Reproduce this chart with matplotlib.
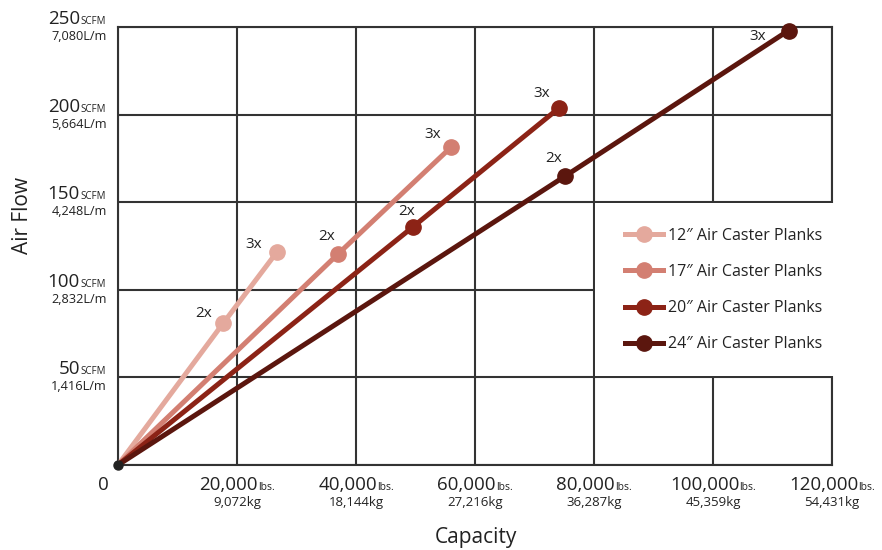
import matplotlib
matplotlib.use("Agg")
import matplotlib.pyplot as plt
import matplotlib.transforms as mtransforms
from matplotlib.patches import Rectangle

plt.rcParams['font.family'] = ['Open Sans', 'DejaVu Sans']

# ---------------- data ----------------
series_names = ['12\u2033 Air Caster Planks', '17\u2033 Air Caster Planks',
                '20\u2033 Air Caster Planks', '24\u2033 Air Caster Planks']
cap_12 = [0, 17700, 26700]
air_12 = [0, 81, 121.5]
cap_17 = [0, 37000, 56000]
air_17 = [0, 120.5, 181.5]
cap_20 = [0, 49600, 74200]
air_20 = [0, 136, 204]
cap_24 = [0, 75200, 112700]
air_24 = [0, 165, 248]
point_labels = ['', '2x', '3x']

x_ticks = [20000, 40000, 60000, 80000, 100000, 120000]
x_main = ['20,000', '40,000', '60,000', '80,000', '100,000', '120,000']
x_metric = ['9,072kg', '18,144kg', '27,216kg', '36,287kg', '45,359kg', '54,431kg']
y_ticks = [50, 100, 150, 200, 250]
y_main = ['50', '100', '150', '200', '250']
y_metric = ['1,416L/m', '2,832L/m', '4,248L/m', '5,664L/m', '7,080L/m']

# ---------------- style ----------------
colors = ['#E4A99D', '#D37F72', '#8C2316', '#5B160E']
# label offsets (pixels) for 2x / 3x per series
label_offsets = [[(-20, 10), (-23, 8)],
                 [(-12, 17), (-19, 13)],
                 [(-6, 15), (-18, 14)],
                 [(-12, 17), (-31, -6)]]
grid_color = '#333333'
text_color = '#222222'

W, H = 882, 550
fig = plt.figure(figsize=(W / 100, H / 100), dpi=100)
ax_l, ax_r, ax_t, ax_b = 118, 832, 27, 465
ax = fig.add_axes([ax_l / W, (H - ax_b) / H, (ax_r - ax_l) / W, (ax_b - ax_t) / H])
ax.set_xlim(0, 120000)
ax.set_ylim(0, 250)
ax.set_xticks([0] + x_ticks)
ax.set_yticks([0] + y_ticks)
ax.tick_params(length=0, labelbottom=False, labelleft=False)
ax.grid(True, color=grid_color, linewidth=1.5, zorder=1)
ax.set_axisbelow(True)
for s in ax.spines.values():
    s.set_color(grid_color)
    s.set_linewidth(1.5)

# white legend panel covering grid cells
ax.add_patch(Rectangle((80000 + 250, 50 + 0.6), 41000, 100 - 1.2,
                       facecolor='white', edgecolor='none', zorder=2.7,
                       clip_on=False))

caps = [cap_12, cap_17, cap_20, cap_24]
airs = [air_12, air_17, air_20, air_24]
handles = []
for i in range(4):
    line, = ax.plot(caps[i], airs[i], color=colors[i], linewidth=3.6,
                    solid_capstyle='butt', zorder=3 + i, clip_on=False)
    ax.plot(caps[i][1:], airs[i][1:], 'o', color=colors[i], markersize=11,
            zorder=3 + i, clip_on=False)
    h, = ax.plot([], [], color=colors[i], linewidth=3.6, marker='o',
                 markersize=11)
    handles.append(h)
    for j in (1, 2):
        ax.annotate(point_labels[j], (caps[i][j], airs[i][j]),
                    xytext=label_offsets[i][j - 1], textcoords='offset pixels',
                    ha='center', va='center', fontsize=11, color=text_color,
                    zorder=10)

# origin dot
ax.plot([0], [0], 'o', color='#222222', markersize=6.5, zorder=10,
        clip_on=False)

leg = ax.legend(handles, series_names, loc='center left',
                bbox_to_anchor=((625 - ax_l) / (ax_r - ax_l), (ax_b - 290) / (ax_b - ax_t)),
                frameon=False, borderpad=0, borderaxespad=0, fontsize=11.5,
                handlelength=2.4, handletextpad=0.3, labelspacing=1.27,
                labelcolor=text_color)
leg.set_zorder(20)

# y tick labels
ytrans = mtransforms.blended_transform_factory(ax.transAxes, ax.transData)
for v, m, met in zip(y_ticks, y_main, y_metric):
    ax.annotate(m, (0, v), xycoords=ytrans, xytext=(-38, 3),
                textcoords='offset pixels', ha='right', va='baseline',
                fontsize=13.5, color=text_color, annotation_clip=False)
    ax.annotate('SCFM', (0, v), xycoords=ytrans, xytext=(-38, 3),
                textcoords='offset pixels', ha='left', va='baseline',
                fontsize=7, color=text_color, annotation_clip=False)
    ax.annotate(met, (0, v), xycoords=ytrans, xytext=(-11, -13),
                textcoords='offset pixels', ha='right', va='baseline',
                fontsize=9.2, color=text_color, annotation_clip=False)

# x tick labels
xtrans = mtransforms.blended_transform_factory(ax.transData, ax.transAxes)
pairs = []
for v, m, met in zip(x_ticks, x_main, x_metric):
    a = ax.annotate(m, (v, 0), xycoords=xtrans, xytext=(0, -25),
                    textcoords='offset pixels', ha='right', va='baseline',
                    fontsize=13.5, color=text_color, annotation_clip=False)
    b = ax.annotate('lbs.', (v, 0), xycoords=xtrans, xytext=(0, -25),
                    textcoords='offset pixels', ha='left', va='baseline',
                    fontsize=7.5, color=text_color, annotation_clip=False)
    ax.annotate(met, (v, 0), xycoords=xtrans, xytext=(0, -41),
                textcoords='offset pixels', ha='center', va='baseline',
                fontsize=9.5, color=text_color, annotation_clip=False)
    pairs.append((a, b))
ax.annotate('0', (0, 0), xycoords=xtrans, xytext=(-15, -25),
            textcoords='offset pixels', ha='center', va='baseline',
            fontsize=13.5, color=text_color, annotation_clip=False)

fig.canvas.draw()
r = fig.canvas.get_renderer()
for a, b in pairs:
    wn = a.get_window_extent(r).width
    wl = b.get_window_extent(r).width
    dx = (wn - wl) / 2
    a.xyann = (dx, -25)
    b.xyann = (dx, -25)

fig.text(22 / W, 1 - 215 / H, 'Air Flow', rotation=90, ha='center',
         va='center', fontsize=15, color=text_color)
fig.text(476 / W, 1 - 538 / H, 'Capacity', ha='center', va='center',
         fontsize=15, color=text_color)

fig.savefig('out.png', dpi=100, facecolor='white')
